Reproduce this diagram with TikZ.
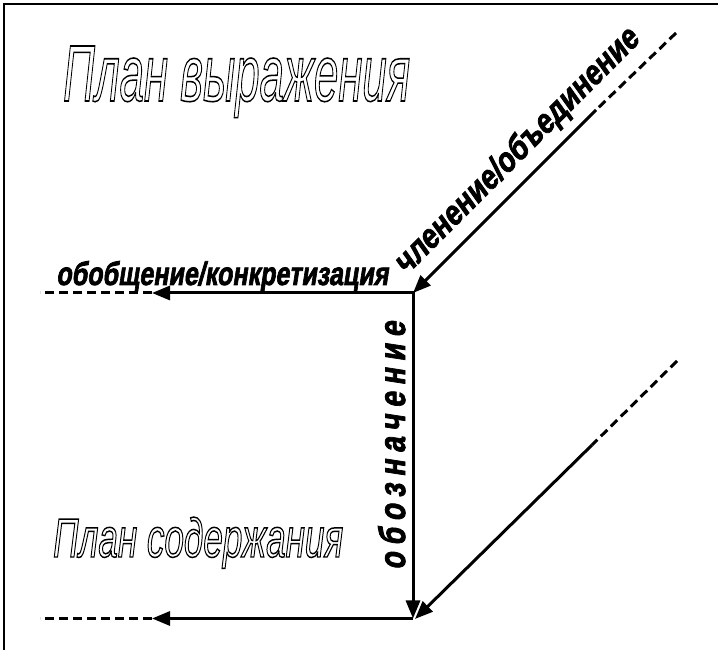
\documentclass[tikz,border=0pt]{standalone}
\usepackage{fontspec}
\usepackage{graphicx}
\usetikzlibrary{arrows.meta}
\setmainfont{Liberation Sans}
\newfontfamily\heavyfont{Liberation Sans}[UprightFont=* Bold, FakeSlant=0.2, FakeBold=2.5]
\newfontfamily\heavyspaced{Liberation Sans}[UprightFont=* Bold, FakeSlant=0.2, FakeBold=2.5, LetterSpace=24]
\newcommand\hollowtext[1]{\special{pdf:literal direct 1 Tr 1.5 w}#1\special{pdf:literal direct 0 Tr}}
\begin{document}
\begin{tikzpicture}[x=1pt,y=1pt,
  arr/.style={line width=3pt,-{Triangle[length=18pt,width=14pt]}},
  dashpart/.style={line width=3pt,dash pattern=on 9pt off 5pt},
  frameline/.style={line width=1.2pt},
  lbl/.style={inner sep=0pt,anchor=base west}]
\useasboundingbox (0,0) rectangle (718,650);
% frame
\coordinate (F1) at (4,0);
\coordinate (F2) at (4,646);
\coordinate (F3) at (718,646);
\draw[frameline] (F1) -- (F2) -- (F3);
% points
\coordinate (A) at (413,357);
\coordinate (B) at (413,31.5);
\coordinate (L1) at (152,357);
\coordinate (L1e) at (40,357);
\coordinate (L2) at (152,31.5);
\coordinate (L2e) at (40,31.5);
\coordinate (D1e) at (676,617);
\coordinate (D1s) at (596,540);
\coordinate (D2e) at (677,289);
\coordinate (D2s) at (592,205);
\coordinate (T2) at (415,31);
% connectors
\draw[arr,line cap=rect] (A) -- (L1);
\draw[dashpart] (L1) -- (L1e);
\draw[arr] (A) -- (B);
\draw[arr] (B) -- (L2);
\draw[dashpart] (L2) -- (L2e);
\draw[dashpart] (D1e) -- (D1s);
\draw[arr] (D1s) -- (A);
\draw[dashpart] (D2e) -- (D2s);
\draw[arr] (D2s) -- (T2);
% labels
\node[lbl] (gen) at (56,365) {\resizebox{332pt}{24pt}{\fontsize{30}{30}\selectfont\heavyfont обобщение/конкретизация}};
\node[lbl,rotate=45] (split) at (406,374) {\resizebox{332pt}{25pt}{\fontsize{30}{30}\selectfont\heavyfont членение/объединение}};
\node[lbl,rotate=90] (sign) at (405,80) {\resizebox{248pt}{27pt}{\fontsize{30}{30}\selectfont\heavyspaced обозначение}};
\node[lbl] (expr) at (63,549) {\resizebox{347pt}{55pt}{\fontsize{78}{78}\selectfont\itshape\hollowtext{План выражения}}};
\node[lbl] (cont) at (53,93) {\resizebox{290pt}{40pt}{\fontsize{56}{56}\selectfont\itshape\hollowtext{План содержания}}};
\end{tikzpicture}
\end{document}
